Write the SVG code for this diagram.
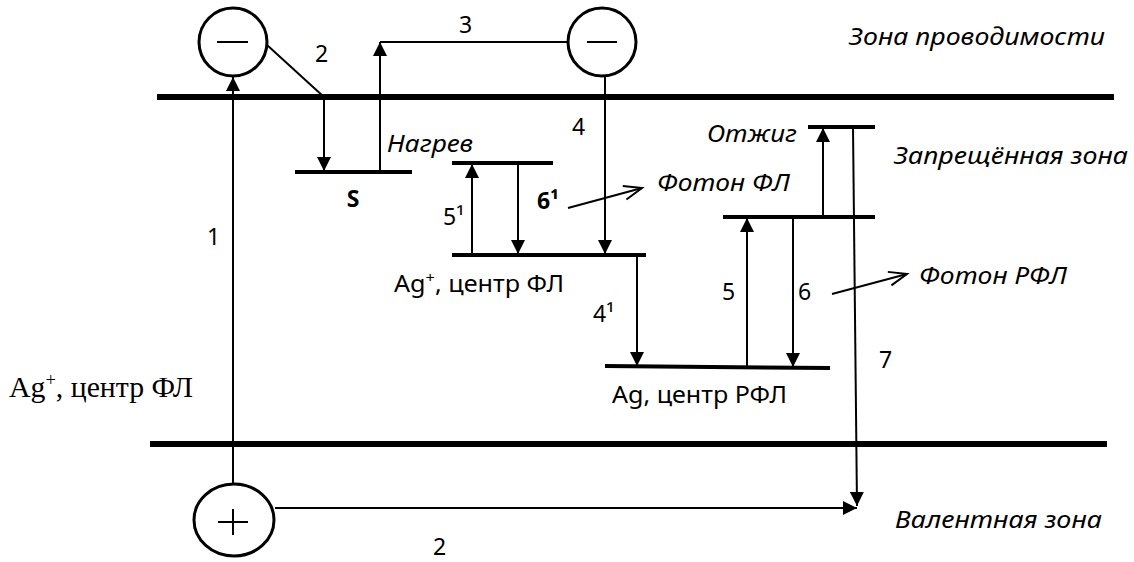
<svg xmlns="http://www.w3.org/2000/svg" width="1134" height="562" viewBox="0 0 1134 562">
<style>
.band{stroke:#000;stroke-width:6;fill:none}
.lvl{stroke:#000;stroke-width:4;fill:none}
.ln{stroke:#000;stroke-width:2;fill:none}
.arr{stroke:#000;stroke-width:2;fill:none;marker-end:url(#ah)}
.ph{stroke:#000;stroke-width:2;fill:none;marker-end:url(#oh)}
.circ{stroke:#000;stroke-width:3;fill:#fff}
.sgn{stroke:#000;stroke-width:2;fill:none}
text{font-family:"Noto Sans","Open Sans","Liberation Sans",sans-serif;font-size:23px;fill:#000}
.it{font-style:italic}
.bd{font-weight:bold}
.serif{font-family:"Liberation Serif","Times New Roman",serif;font-size:29px}
</style>
<defs>
<marker id="ah" markerUnits="userSpaceOnUse" markerWidth="14" markerHeight="14" refX="14" refY="7" orient="auto" viewBox="0 0 14 14">
<path d="M0,0 L14,7 L0,14 Z" fill="#000"/>
</marker>
<marker id="oh" markerUnits="userSpaceOnUse" markerWidth="22" markerHeight="18" refX="19" refY="8" orient="auto" viewBox="0 0 22 16">
<path d="M1,1 L19,8 L1,15" fill="none" stroke="#000" stroke-width="2"/>
</marker>
</defs>
<rect width="1134" height="562" fill="#fff"/>

<g id="conduction-band">
<line class="band" x1="157" y1="97" x2="1114" y2="97"/>
<text class="it" x="849" y="45" textLength="256" lengthAdjust="spacingAndGlyphs">Зона проводимости</text>
</g>
<g id="valence-band">
<line class="band" x1="150" y1="444" x2="1107" y2="444"/>
<text class="it" x="895" y="528" textLength="207" lengthAdjust="spacingAndGlyphs">Валентная зона</text>
</g>
<g id="forbidden-label">
<text class="it" x="894" y="164" textLength="234" lengthAdjust="spacingAndGlyphs">Запрещённая зона</text>
</g>
<g id="left-label">
<text class="serif" x="9" y="397" textLength="184" lengthAdjust="spacingAndGlyphs">Ag<tspan font-size="18" dy="-11">+</tspan><tspan dy="11">, центр ФЛ</tspan></text>
</g>

<g id="connectors">
<line class="arr" x1="233" y1="483" x2="233" y2="77"/>
<polyline class="ln" points="267,45 324,97"/>
<line class="arr" x1="324" y1="97" x2="324" y2="171"/>
<line class="arr" x1="380" y1="171" x2="380" y2="42"/>
<line class="ln" x1="380" y1="42" x2="567" y2="42"/>
<line class="arr" x1="605" y1="77" x2="605" y2="254"/>
<line class="arr" x1="472" y1="254" x2="472" y2="164"/>
<line class="arr" x1="518" y1="164" x2="518" y2="254"/>
<line class="arr" x1="637" y1="256" x2="637" y2="366"/>
<line class="arr" x1="747" y1="366" x2="747" y2="218"/>
<line class="arr" x1="793" y1="218" x2="793" y2="367"/>
<line class="arr" x1="823" y1="216" x2="823" y2="128"/>
<line class="arr" x1="853" y1="127" x2="857" y2="506"/>
<line class="arr" x1="275" y1="508" x2="857" y2="508"/>
<line class="ph" x1="568" y1="208" x2="642" y2="188"/>
<line class="ph" x1="832" y1="294" x2="907" y2="274"/>
<text x="315" y="62">2</text>
<text x="459" y="33">3</text>
<text x="207" y="245">1</text>
<text x="572" y="135">4</text>
<text x="443" y="225">5¹</text>
<text class="bd" x="537" y="209">6¹</text>
<text x="593" y="322">4¹</text>
<text x="722" y="300">5</text>
<text x="798" y="300">6</text>
<text x="879" y="368">7</text>
<text x="433" y="555">2</text>
<text class="it" x="707" y="142" textLength="90" lengthAdjust="spacingAndGlyphs">Отжиг</text>
<text class="it" x="387" y="152" textLength="86" lengthAdjust="spacingAndGlyphs">Нагрев</text>
<text class="it" x="657" y="191" textLength="133" lengthAdjust="spacingAndGlyphs">Фотон ФЛ</text>
<text class="it" x="919" y="284" textLength="148" lengthAdjust="spacingAndGlyphs">Фотон РФЛ</text>
</g>

<g id="electron-1">
<circle class="circ" cx="233" cy="42" r="34"/>
<line class="sgn" x1="217" y1="42" x2="248" y2="42"/>
</g>
<g id="electron-2">
<circle class="circ" cx="602" cy="42" r="34"/>
<line class="sgn" x1="587" y1="42" x2="617" y2="42"/>
</g>
<g id="hole">
<ellipse class="circ" cx="234" cy="520" rx="40" ry="36"/>
<line class="sgn" x1="218" y1="522" x2="248" y2="522"/>
<line class="sgn" x1="233" y1="509" x2="233" y2="535"/>
</g>

<g id="level-S">
<line class="lvl" x1="295" y1="172" x2="412" y2="172"/>
<text class="bd" x="353" y="207" text-anchor="middle" font-size="22">S</text>
</g>
<g id="level-FL-excited">
<line class="lvl" x1="452" y1="163" x2="553" y2="163"/>
</g>
<g id="level-FL">
<line class="lvl" x1="452" y1="255" x2="646" y2="255"/>
<text x="394" y="292" textLength="170" lengthAdjust="spacingAndGlyphs">Ag<tspan font-size="15" dy="-9">+</tspan><tspan dy="9">, центр ФЛ</tspan></text>
</g>
<g id="level-RFL">
<line class="lvl" x1="605" y1="366" x2="830" y2="368"/>
<text x="612" y="403" textLength="175" lengthAdjust="spacingAndGlyphs">Ag, центр РФЛ</text>
</g>
<g id="level-RFL-excited">
<line class="lvl" x1="723" y1="217" x2="875" y2="217"/>
</g>
<g id="level-anneal">
<line class="lvl" x1="808" y1="127" x2="875" y2="127"/>
</g>
</svg>
